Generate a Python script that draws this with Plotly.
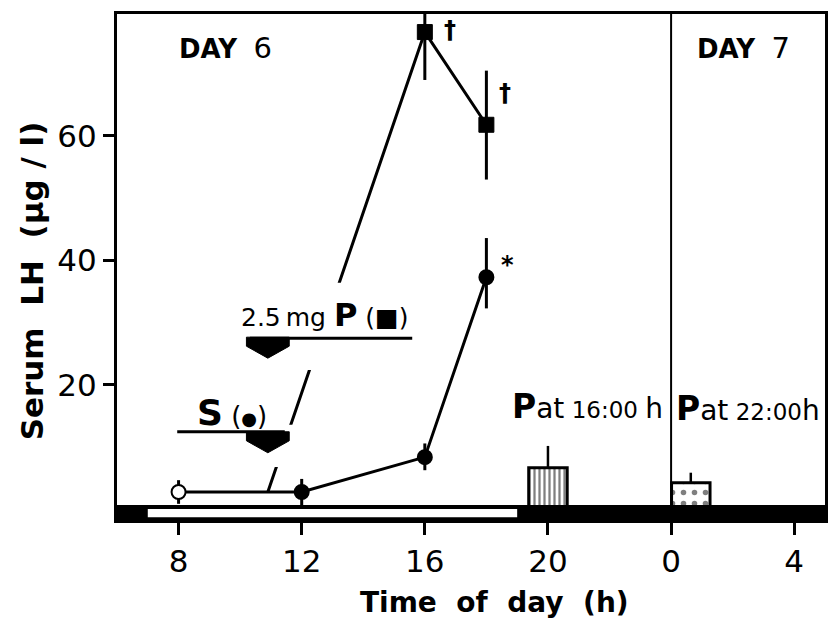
import plotly.graph_objects as go

# ---------------- data ----------------
injection_time = 10.9          # time of S / P injection (h)
day_boundary = 24              # midnight between day 6 and day 7
lights_on, lights_off = 7, 19  # light period

# S (saline) group: circles
hours_s = [8, 12, 16, 18]
lh_s = [2.8, 2.8, 8.4, 37.3]
lh_s_err_plus = [1.9, 2.1, 2.2, 6.3]
lh_s_err_minus = [1.9, 2.1, 2.1, 5.0]

# 2.5 mg P group: squares (first point = injection on baseline)
hours_p = [injection_time, 16, 18]
lh_p = [2.8, 76.7, 61.8]
lh_p_err_plus = [0, 7.7, 8.7]
lh_p_err_minus = [0, 7.7, 8.8]

# P given at 16:00 h / 22:00 h: bars
bar_hours = [20, 24.64]
bar_lh = [6.7, 4.3]
bar_err = [3.5, 1.6]

# significance marks
sig_hours = [16, 18, 18]
sig_lh = [76.7, 61.8, 37.3]
sig_symbols = ["†", "†", "*"]

x_tickvals = [8, 12, 16, 20, 24, 28]
x_ticktext = ["8", "12", "16", "20", "0", "4"]
y_tickvals = [20, 40, 60]

# ---------------- geometry helpers ----------------
X0, X1 = 6, 29
Y0, Y1 = -1.7, 79.6
W, H = 832, 630
L, R, T, B = 117, 828, 14, 520   # plot area


def dx(px):
    return px * (X1 - X0) / (R - L)


def dy(px):
    return px * (Y1 - Y0) / (B - T)


def paper_x(px):
    return (px - L) / (R - L)


def paper_y(py):
    return (B - py) / (B - T)


FONT = "DejaVu Sans"
BAR_WIDTH = 1.25
NB = "\u00a0"

fig = go.Figure()

# bars
fig.add_trace(go.Bar(
    x=bar_hours, y=bar_lh, width=[BAR_WIDTH] * len(bar_hours),
    marker=dict(color="white", line=dict(color="black", width=3),
                pattern=dict(shape=["|", "."], fgcolor="black", bgcolor="white",
                             size=[5, 11], solidity=[0.45, 0.2])),
    error_y=dict(type="data", symmetric=False, array=bar_err,
                 arrayminus=[0] * len(bar_err), color="black", thickness=2.5, width=0),
    showlegend=False, hoverinfo="skip",
))

# P group
fig.add_trace(go.Scatter(
    x=hours_p, y=lh_p, mode="lines+markers",
    line=dict(color="black", width=3),
    marker=dict(symbol="square", size=[0 if h == injection_time else 15 for h in hours_p],
                color="black", opacity=1, line=dict(color="black", width=1)),
    error_y=dict(type="data", symmetric=False, array=lh_p_err_plus,
                 arrayminus=lh_p_err_minus, color="black", thickness=3, width=0),
    showlegend=False,
))

# S group
fig.add_trace(go.Scatter(
    x=hours_s, y=lh_s, mode="lines+markers",
    line=dict(color="black", width=3),
    marker=dict(symbol="circle", size=14, opacity=1,
                color=["white" if h < injection_time else "black" for h in hours_s],
                line=dict(color="black", width=2)),
    error_y=dict(type="data", symmetric=False, array=lh_s_err_plus,
                 arrayminus=lh_s_err_minus, color="black", thickness=3, width=0),
    showlegend=False,
))

shapes = []
# day divider
shapes.append(dict(type="line", xref="x", yref="paper", x0=day_boundary, x1=day_boundary,
                   y0=0, y1=1, line=dict(color="black", width=2), layer="above"))
# dark / light band at the bottom
shapes.append(dict(type="rect", xref="paper", yref="y", x0=0, x1=1, y0=Y0 - 0.1, y1=0.7,
                   fillcolor="black", line=dict(width=0), layer="above"))
shapes.append(dict(type="rect", xref="x", yref="y", x0=lights_on, x1=lights_off,
                   y0=-1.25, y1=0.05, fillcolor="white", line=dict(width=0), layer="above"))

# white gaps in the P line around the labels
shapes.append(dict(type="rect", xref="x", yref="y", x0=injection_time + dx(3),
                   x1=injection_time + dx(33), y0=6.8, y1=13.6,
                   fillcolor="white", line=dict(width=0), layer="above"))
shapes.append(dict(type="rect", xref="x", yref="y", x0=injection_time + dx(34),
                   x1=injection_time + dx(80), y0=22.4, y1=36.4,
                   fillcolor="white", line=dict(width=0), layer="above"))


def block_arrow(x0, tip_y):
    hw = dx(21.5)
    top = tip_y + dy(21)
    sh = tip_y + dy(12)
    path = (f"M {x0 - hw},{top} L {x0 + hw},{top} L {x0 + hw},{sh} "
            f"L {x0},{tip_y} L {x0 - hw},{sh} Z")
    return dict(type="path", xref="x", yref="y", path=path, fillcolor="black",
                line=dict(color="black", width=1), layer="above"), top


P_TIP = 24.3
S_TIP = 9.1
arr, ptop = block_arrow(injection_time, P_TIP)
shapes.append(arr)
shapes.append(dict(type="line", xref="x", yref="y", x0=injection_time - dx(18),
                   x1=injection_time + dx(145), y0=ptop - dy(1), y1=ptop - dy(1),
                   line=dict(color="black", width=3), layer="above"))
arr, stop = block_arrow(injection_time, S_TIP)
shapes.append(arr)
shapes.append(dict(type="line", xref="x", yref="y", x0=injection_time - dx(91),
                   x1=injection_time + dx(17), y0=stop, y1=stop,
                   line=dict(color="black", width=3), layer="above"))

annotations = []
annotations.append(dict(x=7.94, y=74.1, xref="x", yref="y", xanchor="left", yanchor="middle",
                        showarrow=False,
                        text=f"<b>DAY</b>{NB}{NB}<span style='font-size:29px'>6</span>",
                        font=dict(family=FONT, size=26, color="black")))
annotations.append(dict(x=24.77, y=74.1, xref="x", yref="y", xanchor="left", yanchor="middle",
                        showarrow=False,
                        text=f"<b>DAY</b>{NB}{NB}<span style='font-size:29px'>7</span>",
                        font=dict(family=FONT, size=26, color="black")))
annotations.append(dict(x=9.97, y=31.3, xref="x", yref="y", xanchor="left", yanchor="middle",
                        showarrow=False,
                        text="2.5\u2009mg <span style='font-weight:bold;font-size:32px'>P</span> (■)",
                        font=dict(family=FONT, size=25, color="black")))
annotations.append(dict(x=8.52, y=15.6, xref="x", yref="y", xanchor="left", yanchor="middle",
                        showarrow=False,
                        text="<span style='font-weight:bold;font-size:36px'>S</span> "
                             "<span style='font-size:26px'>(</span>"
                             "<span style='font-size:18px'>●</span>"
                             "<span style='font-size:26px'>)</span>",
                        font=dict(family=FONT, size=26, color="black")))
annotations.append(dict(x=day_boundary, y=16.6, xref="x", yref="y", xanchor="right",
                        yanchor="middle", xshift=-6, showarrow=False,
                        text="<span style='font-weight:bold;font-size:33px'>P</span>"
                             "<span style='font-size:28px'>at</span> 16:00 "
                             "<span style='font-size:28px'>h</span>",
                        font=dict(family=FONT, size=23, color="black")))
annotations.append(dict(x=day_boundary, y=16.2, xref="x", yref="y", xanchor="left",
                        yanchor="middle", xshift=3, showarrow=False,
                        text="<span style='font-weight:bold;font-size:33px'>P</span>"
                             "<span style='font-size:28px'>at</span> 22:00"
                             "<span style='font-size:28px'>h</span>",
                        font=dict(family=FONT, size=23, color="black")))

sig_shift = [(25, 2), (19, 32), (21, 12)]
for h, v, s, (xs, ys) in zip(sig_hours, sig_lh, sig_symbols, sig_shift):
    annotations.append(dict(x=h, y=v, xref="x", yref="y", xshift=xs, yshift=ys,
                            showarrow=False, text=f"<b>{s}</b>",
                            font=dict(family=FONT, size=24, color="black")))

# axis titles
annotations.append(dict(x=paper_x(496), y=paper_y(602), xref="paper", yref="paper",
                        xanchor="center", yanchor="middle", showarrow=False,
                        text=f"<b>Time{NB}{NB}of{NB}{NB}day{NB}{NB}(h)</b>",
                        font=dict(family=FONT, size=28, color="black")))
annotations.append(dict(x=paper_x(32), y=paper_y(281), xref="paper", yref="paper",
                        xanchor="center", yanchor="middle", showarrow=False, textangle=-90,
                        text=f"<b>Serum{NB}{NB}LH{NB}{NB}(µg{NB}/{NB}l)</b>",
                        font=dict(family=FONT, size=31, color="black")))

fig.update_layout(
    width=W, height=H,
    margin=dict(l=L, r=W - R, t=T, b=H - B),
    paper_bgcolor="white", plot_bgcolor="white",
    shapes=shapes, annotations=annotations,
    showlegend=False,
    xaxis=dict(range=[X0, X1], tickvals=x_tickvals, ticktext=x_ticktext,
               ticks="outside", ticklen=12, tickwidth=3, tickcolor="black",
               showline=True, linecolor="black", linewidth=3, mirror=True,
               showgrid=False, zeroline=False,
               tickfont=dict(family=FONT, size=31, color="black")),
    yaxis=dict(range=[Y0, Y1], tickvals=y_tickvals,
               ticks="outside", ticklen=11, tickwidth=3, tickcolor="black",
               showline=True, linecolor="black", linewidth=3, mirror=True,
               showgrid=False, zeroline=False,
               tickfont=dict(family=FONT, size=31, color="black")),
)

fig.write_html("out.html", config={"displayModeBar": False},
               post_script="document.body.style.margin='0px';")
